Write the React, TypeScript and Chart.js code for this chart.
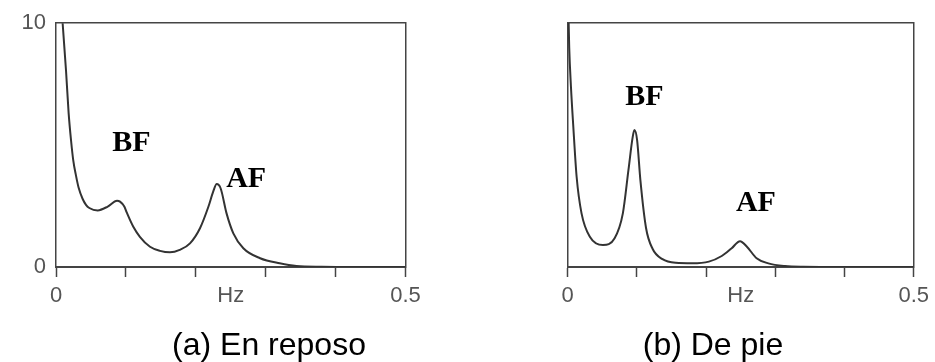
import React, { useEffect, useRef } from "react";
import { Chart, registerables } from "chart.js";

Chart.register(...registerables);

// ---- Data ----
// Panel (a) En reposo
const freqA = [0.007, 0.0095, 0.0143, 0.0181, 0.0215, 0.0248, 0.0286, 0.0324, 0.038, 0.0429, 0.0477, 0.0596, 0.074, 0.0873, 0.0916, 0.0977, 0.101, 0.1106, 0.12, 0.1345, 0.1488, 0.163, 0.177, 0.1917, 0.206, 0.218, 0.225, 0.2299, 0.2356, 0.244, 0.2537, 0.268, 0.292, 0.32, 0.344, 0.38, 0.45, 0.5];
const powerA = [11.2, 10.0, 8.07, 6.3, 5.2, 4.35, 3.75, 3.25, 2.8, 2.55, 2.42, 2.32, 2.48, 2.72, 2.68, 2.48, 2.25, 1.65, 1.24, 0.83, 0.66, 0.6, 0.7, 0.97, 1.59, 2.47, 3.1, 3.4, 3.22, 2.2, 1.38, 0.77, 0.36, 0.15, 0.04, 0.01, 0, 0];

// Panel (b) De pie
const freqB = [0.001, 0.0022, 0.0047, 0.008, 0.0129, 0.02, 0.032, 0.051, 0.0678, 0.0797, 0.0878, 0.094, 0.0964, 0.1003, 0.105, 0.1132, 0.1226, 0.137, 0.156, 0.18, 0.204, 0.2226, 0.237, 0.249, 0.259, 0.273, 0.29, 0.314, 0.34, 0.4, 0.5];
const powerB = [10.5, 9.0, 7.39, 5.8, 3.7, 2.2, 1.24, 0.9, 1.18, 2.2, 3.98, 5.34, 5.61, 5.2, 3.57, 1.6, 0.75, 0.32, 0.17, 0.15, 0.22, 0.45, 0.77, 1.06, 0.83, 0.36, 0.15, 0.04, 0.01, 0, 0];

// Peak labels (data units)
const notesA = [
  { text: "BF", x: 0.108, y: 5.08 },
  { text: "AF", x: 0.272, y: 3.61 },
];
const notesB = [
  { text: "BF", x: 0.1107, y: 6.95 },
  { text: "AF", x: 0.272, y: 2.62 },
];

// Axis ticks
const xTicks = [0, 0.1, 0.2, 0.25, 0.3, 0.4, 0.5];
const xTickLabels = ["0", "", "", "Hz", "", "", "0.5"];
const yTicks = [0, 10];
const yTickLabels = ["0", "10"];

const captionA = "(a) En reposo";
const captionB = "(b) De pie";

const AXIS_COLOR = "#444";
const LABEL_COLOR = "#555";

const notesPlugin = {
  id: "notes",
  afterDatasetsDraw(chart: any, _args: any, opts: any) {
    const { ctx } = chart;
    const xs = chart.scales.x;
    const ys = chart.scales.y;
    ctx.save();
    ctx.font = 'bold 30px "Liberation Serif"';
    ctx.fillStyle = "#000";
    ctx.textAlign = "center";
    ctx.textBaseline = "middle";
    for (const n of opts.items || []) {
      ctx.fillText(n.text, xs.getPixelForValue(n.x), ys.getPixelForValue(n.y));
    }
    ctx.restore();
  },
};

type PanelProps = {
  freq: number[];
  power: number[];
  notes: { text: string; x: number; y: number }[];
  caption: string;
  showY: boolean;
  left: number;
  width: number;
  leftWidth: number;
  rightWidth: number;
};

function Panel(p: PanelProps) {
  const ref = useRef<HTMLCanvasElement | null>(null);
  useEffect(() => {
    if (!ref.current) return;
    const chart = new Chart(ref.current, {
      type: "line",
      data: {
        datasets: [
          {
            data: p.freq.map((f, i) => ({ x: f, y: p.power[i] })),
            borderColor: "#333",
            borderWidth: 2,
            pointRadius: 0,
            cubicInterpolationMode: "monotone",
            fill: false,
            xAxisID: "x",
            yAxisID: "y",
          },
        ],
      },
      options: {
        animation: false,
        responsive: false,
        devicePixelRatio: 1,
        layout: { padding: 0 },
        scales: {
          x: {
            type: "linear",
            position: "bottom",
            min: 0,
            max: 0.5,
            afterBuildTicks: (s: any) => {
              s.ticks = xTicks.map((v) => ({ value: v }));
            },
            afterFit: (s: any) => {
              s.height = 63;
            },
            ticks: {
              autoSkip: false,
              maxRotation: 0,
              padding: 6,
              color: LABEL_COLOR,
              font: { family: "Liberation Sans", size: 22 },
              callback: (v: any) => xTickLabels[xTicks.indexOf(v)] ?? "",
            },
            grid: {
              display: true,
              drawOnChartArea: false,
              drawTicks: true,
              tickLength: 10,
              tickWidth: 1.5,
              tickColor: (c: any) =>
                c.tick && c.tick.value === 0.25 ? "rgba(0,0,0,0)" : AXIS_COLOR,
            },
            border: { display: true, color: AXIS_COLOR, width: 2 },
          },
          x2: {
            type: "linear",
            position: "top",
            min: 0,
            max: 0.5,
            afterFit: (s: any) => {
              s.height = 23;
            },
            ticks: { display: false },
            grid: { display: false, drawTicks: false },
            border: { display: true, color: AXIS_COLOR, width: 1.5 },
          },
          y: {
            type: "linear",
            position: "left",
            min: 0,
            max: 10,
            afterBuildTicks: (s: any) => {
              s.ticks = yTicks.map((v) => ({ value: v }));
            },
            afterFit: (s: any) => {
              s.width = p.leftWidth;
            },
            ticks: {
              display: p.showY,
              padding: 10,
              color: LABEL_COLOR,
              font: { family: "Liberation Sans", size: 22 },
              callback: (v: any) => yTickLabels[yTicks.indexOf(v)] ?? "",
            },
            grid: { display: false, drawTicks: false },
            border: { display: true, color: AXIS_COLOR, width: 1.5 },
          },
          y2: {
            type: "linear",
            position: "right",
            min: 0,
            max: 10,
            afterFit: (s: any) => {
              s.width = p.rightWidth;
            },
            ticks: { display: false },
            grid: { display: false, drawTicks: false },
            border: { display: true, color: AXIS_COLOR, width: 1.5 },
          },
        },
        plugins: {
          legend: { display: false },
          tooltip: { enabled: false },
          title: {
            display: true,
            position: "bottom",
            text: p.caption,
            color: "#000",
            font: { family: "Liberation Sans", size: 32, weight: "normal", lineHeight: 1 },
            padding: 0,
          },
          notes: { items: p.notes },
        } as any,
      },
      plugins: [notesPlugin],
    } as any);
    return () => chart.destroy();
  }, []);
  return (
    <canvas
      ref={ref}
      width={p.width}
      height={362}
      style={{ position: "absolute", left: p.left, top: 0, width: p.width, height: 362 }}
    />
  );
}

export default function App() {
  return (
    <div style={{ position: "absolute", left: 0, top: 0, width: 935, height: 362, background: "#fff" }}>
      <Panel
        freq={freqA}
        power={powerA}
        notes={notesA}
        caption={captionA}
        showY={true}
        left={0}
        width={538}
        leftWidth={56}
        rightWidth={132.5}
      />
      <Panel
        freq={freqB}
        power={powerB}
        notes={notesB}
        caption={captionB}
        showY={false}
        left={491}
        width={444}
        leftWidth={76.7}
        rightWidth={18.3}
      />
    </div>
  );
}
